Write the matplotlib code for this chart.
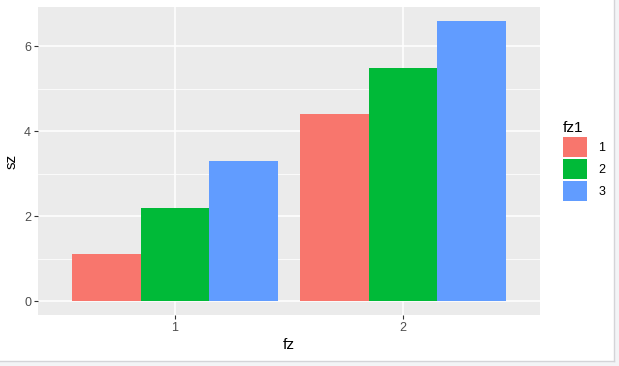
import numpy as np
import matplotlib.pyplot as plt
from matplotlib.patches import Rectangle
from matplotlib.lines import Line2D

fz = [1, 2]
fz1 = ['1', '2', '3']
sz = {'1': [1.1, 4.4], '2': [2.2, 5.5], '3': [3.3, 6.6]}
colors = ['#F8766D', '#00BA38', '#619CFF']

plt.rcParams['font.family'] = ['Liberation Sans', 'DejaVu Sans']

fig = plt.figure(figsize=(6.19, 3.66), dpi=100)
fig.patch.set_facecolor('#f3f4f6')
# white plot area with light border on right/bottom, like the screenshot
fig.patches.append(Rectangle((0, 5 / 366), 614 / 619, 361 / 366, transform=fig.transFigure,
                             facecolor='white', edgecolor='none', zorder=-10))
fig.lines.append(Line2D([0, 614 / 619], [5.5 / 366] * 2, transform=fig.transFigure,
                        color='#d4d4d8', linewidth=1, zorder=-9))
fig.lines.append(Line2D([613.5 / 619] * 2, [5.5 / 366, 1], transform=fig.transFigure,
                        color='#d4d4d8', linewidth=1, zorder=-9))

ax = fig.add_axes([38 / 619, 51 / 366, 502 / 619, 308 / 366])
ax.set_facecolor('#EBEBEB')
for s in ax.spines.values():
    s.set_visible(False)

w = 0.3
x = np.array(fz, dtype=float)
for i, (lab, c) in enumerate(zip(fz1, colors)):
    ax.bar(x + (i - 1) * w, sz[lab], width=w, color=c, label=lab, zorder=3)

ax.set_xlim(0.4, 2.6)
ax.set_ylim(-0.33, 6.93)
ax.set_xticks(fz)
ax.set_xticklabels([str(v) for v in fz])
ax.set_yticks([0, 2, 4, 6])
ax.set_yticks([1, 3, 5], minor=True)
ax.set_xticks([], minor=True)
ax.grid(which='major', color='white', linewidth=1.1, zorder=1)
ax.grid(which='minor', axis='y', color='white', linewidth=0.55, zorder=1)
ax.set_axisbelow(True)
ax.tick_params(which='major', length=3, width=0.8, color='#333333', labelcolor='#4D4D4D', labelsize=9, pad=2)
ax.tick_params(which='minor', length=0)
ax.set_xlabel('fz', fontsize=11, labelpad=3)
ax.set_ylabel('sz', fontsize=11, labelpad=4)

leg = ax.legend(title='fz1', loc='upper left', bbox_to_anchor=(1.035, 0.645), frameon=False,
                fontsize=9, title_fontsize=11, handlelength=1.95, handleheight=2.15,
                handletextpad=0.9, labelspacing=0.12, borderaxespad=0)
leg._legend_box.align = 'left'

fig.savefig('out.png', dpi=100, facecolor=fig.get_facecolor())
